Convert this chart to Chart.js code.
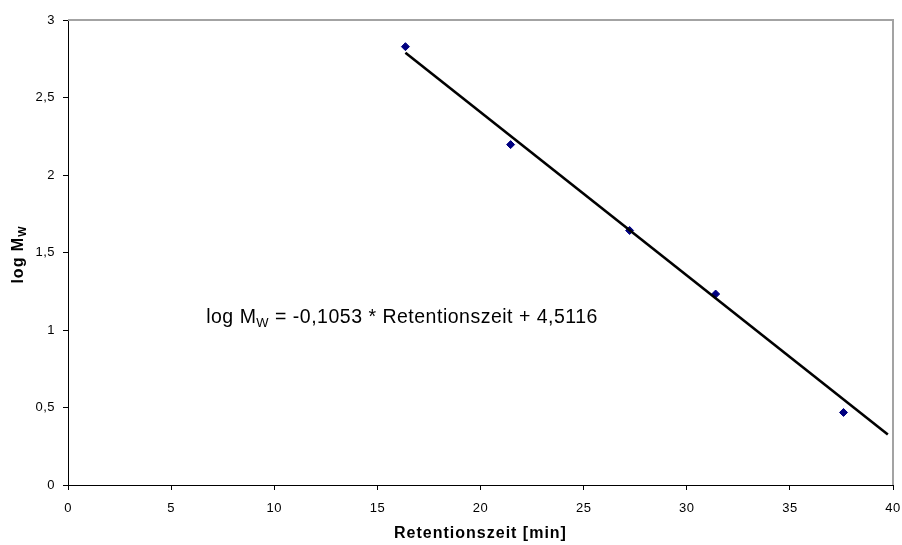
<!DOCTYPE html>
<html lang="de">
<head>
<meta charset="UTF-8">
<title>Kalibrierung</title>
<style>
  html, body { margin: 0; padding: 0; background: #fff; }
  #wrap { width: 902px; height: 545px; }
</style>
</head>
<body>
<div id="wrap"><canvas id="kalibChart"></canvas></div>
<script src="https://cdn.jsdelivr.net/npm/chart.js"></script>
<script>
// Messpunkte: Retentionszeit [min] und log Mw
const retentionszeit = [16.36, 21.46, 27.23, 31.4, 37.6];
const logMw = [2.828, 2.196, 1.642, 1.232, 0.468];

// Regressionsgerade log Mw = a * t + b
const steigung = -0.1053;
const achsenabschnitt = 4.5116;
const trendVon = 16.36;
const trendBis = 39.75;

// Achsenbeschriftung
const xTicks = [0, 5, 10, 15, 20, 25, 30, 35, 40];
const yTicks = [0, 0.5, 1, 1.5, 2, 2.5, 3];

const schrift = 'Arial, "Liberation Sans", sans-serif';
const komma = v => String(v).replace('.', ',');

// Text mit tiefgestelltem W zeichnen (Teile: Text, Größe, Versatz)
function zeichneTeile(ctx, teile, x, y, fett, zentriert) {
  let breite = 0;
  teile.forEach(t => {
    ctx.font = (fett ? 'bold ' : '') + t.size + 'px ' + schrift;
    t.w = ctx.measureText(t.text).width;
    breite += t.w;
  });
  let px = zentriert ? x - breite / 2 : x;
  teile.forEach(t => {
    ctx.font = (fett ? 'bold ' : '') + t.size + 'px ' + schrift;
    ctx.fillText(t.text, px, y + (t.dy || 0));
    px += t.w;
  });
}

const deko = {
  id: 'deko',
  beforeDraw(chart) {
    chart.ctx.letterSpacing = '0.5px';
  },
  beforeDatasetsDraw(chart) {
    // graue Rahmenlinie oben und rechts
    const { ctx, chartArea: a } = chart;
    ctx.save();
    ctx.strokeStyle = '#a3a3a3';
    ctx.lineWidth = 2;
    ctx.beginPath();
    ctx.moveTo(a.left, a.top);
    ctx.lineTo(a.right, a.top);
    ctx.lineTo(a.right, a.bottom);
    ctx.stroke();
    ctx.restore();
  },
  afterDraw(chart) {
    const { ctx, chartArea: a, scales } = chart;
    ctx.save();
    ctx.fillStyle = '#000';
    ctx.textBaseline = 'alphabetic';
    ctx.textAlign = 'left';

    // Achsentitel x
    ctx.letterSpacing = '1px';
    zeichneTeile(ctx, [{ text: 'Retentionszeit [min]', size: 16 }],
      (a.left + a.right) / 2, chart.height - 7, true, true);

    // Achsentitel y (gedreht)
    ctx.save();
    ctx.translate(23, (a.top + a.bottom) / 2 + 2);
    ctx.rotate(-Math.PI / 2);
    zeichneTeile(ctx, [
      { text: 'log M', size: 16 },
      { text: 'W', size: 11, dy: 3 }
    ], 0, 0, true, true);
    ctx.restore();

    // Geradengleichung
    ctx.letterSpacing = '0.5px';
    const gx = scales.x.getPixelForValue(6.7);
    const gy = scales.y.getPixelForValue(1.045);
    zeichneTeile(ctx, [
      { text: 'log M', size: 19.5 },
      { text: 'W', size: 13, dy: 4 },
      { text: ' = ' + komma(steigung.toFixed(4)) + ' * Retentionszeit + ' +
          komma(achsenabschnitt.toFixed(4)), size: 19.5 }
    ], gx, gy, false, false);
    ctx.restore();
  }
};

const trendDaten = [trendVon, trendBis].map(x => ({ x: x, y: steigung * x + achsenabschnitt }));
const punkte = retentionszeit.map((t, i) => ({ x: t, y: logMw[i] }));

new Chart(document.getElementById('kalibChart'), {
  type: 'scatter',
  data: {
    datasets: [
      {
        label: 'Trend',
        data: trendDaten,
        showLine: true,
        borderColor: '#000',
        borderWidth: 2.6,
        pointRadius: 0,
        pointHoverRadius: 0,
        order: 0
      },
      {
        label: 'log Mw',
        data: punkte,
        pointStyle: 'rectRot',
        pointRadius: 4,
        pointBorderWidth: 1,
        backgroundColor: '#000080',
        borderColor: '#000080',
        order: 1
      }
    ]
  },
  options: {
    responsive: true,
    maintainAspectRatio: false,
    animation: false,
    layout: { padding: { top: 20, right: 0, left: 0, bottom: 0 } },
    plugins: {
      legend: { display: false },
      tooltip: { enabled: false }
    },
    scales: {
      x: {
        type: 'linear',
        min: 0,
        max: 40,
        afterBuildTicks: s => { s.ticks = xTicks.map(v => ({ value: v })); },
        afterFit: s => { s.height = 60; s.paddingLeft = 0; s.paddingRight = 9; },
        grid: { drawOnChartArea: false, drawTicks: true, tickLength: 5, color: '#000' },
        border: { color: '#000', width: 1 },
        ticks: {
          color: '#000',
          padding: 11,
          maxRotation: 0,
          font: { family: schrift, size: 13 }
        }
      },
      y: {
        type: 'linear',
        min: 0,
        max: 3,
        afterBuildTicks: s => { s.ticks = yTicks.map(v => ({ value: v })); },
        afterFit: s => { s.width = 68; s.paddingTop = 0; s.paddingBottom = 0; },
        grid: { drawOnChartArea: false, drawTicks: true, tickLength: 5, color: '#000' },
        border: { color: '#000', width: 1 },
        ticks: {
          color: '#000',
          padding: 8,
          font: { family: schrift, size: 13 },
          callback: v => komma(v)
        }
      }
    }
  },
  plugins: [deko]
});
</script>
</body>
</html>
